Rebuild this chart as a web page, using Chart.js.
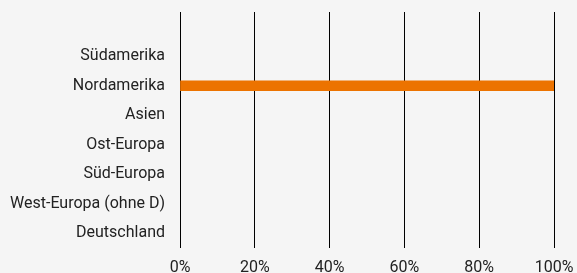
<!DOCTYPE html>
<html>
<head>
<meta charset="utf-8">
<script src="https://cdn.jsdelivr.net/npm/chart.js@4/dist/chart.umd.min.js"></script>
<style>
html,body{margin:0;padding:0;background:#f5f5f5;}
#wrap{position:relative;width:577px;height:273px;}
</style>
</head>
<body>
<div id="wrap"><canvas id="c"></canvas></div>
<script>
const categories = ['', 'Südamerika', 'Nordamerika', 'Asien', 'Ost-Europa', 'Süd-Europa', 'West-Europa (ohne D)', 'Deutschland'];
const shareValues = [null, 0, 100, 0, 0, 0, 0, 0];
const xTickValues = [0, 20, 40, 60, 80, 100];

const bgPlugin = {
  id: 'bg',
  beforeDraw(chart) {
    const ctx = chart.ctx;
    ctx.save();
    ctx.fillStyle = '#f5f5f5';
    ctx.fillRect(0, 0, chart.width, chart.height);
    ctx.restore();
  }
};

new Chart(document.getElementById('c'), {
  type: 'bar',
  data: {
    labels: categories,
    datasets: [{
      data: shareValues,
      backgroundColor: ctx => (ctx.raw > 0 ? '#ec7300' : 'rgba(0,0,0,0)'),
      borderWidth: 0,
      barThickness: 10
    }]
  },
  options: {
    indexAxis: 'y',
    responsive: true,
    maintainAspectRatio: false,
    animation: false,
    devicePixelRatio: 1,
    layout: { padding: { top: 12, right: 23, left: 0, bottom: 0 } },
    plugins: { legend: { display: false }, tooltip: { enabled: false } },
    scales: {
      x: {
        min: 0, max: 100,
        afterBuildTicks(scale) { scale.ticks = xTickValues.map(v => ({ value: v })); },
        afterFit(scale) { scale.height = 25; scale.paddingLeft = 0; scale.paddingRight = 0; },
        grid: { color: '#000', lineWidth: 1, drawTicks: false },
        border: { display: false },
        ticks: {
          color: '#222',
          font: { family: 'Roboto', size: 16 },
          padding: 10,
          maxRotation: 0,
          callback: v => v + '%'
        }
      },
      y: {
        afterFit(scale) { scale.width = 180; scale.paddingTop = 0; scale.paddingBottom = 0; },
        grid: { display: false, drawTicks: false },
        border: { display: false },
        ticks: {
          color: '#222',
          font: { family: 'Roboto', size: 16 },
          padding: 15,
          autoSkip: false
        }
      }
    }
  },
  plugins: [bgPlugin]
});
</script>
</body>
</html>
